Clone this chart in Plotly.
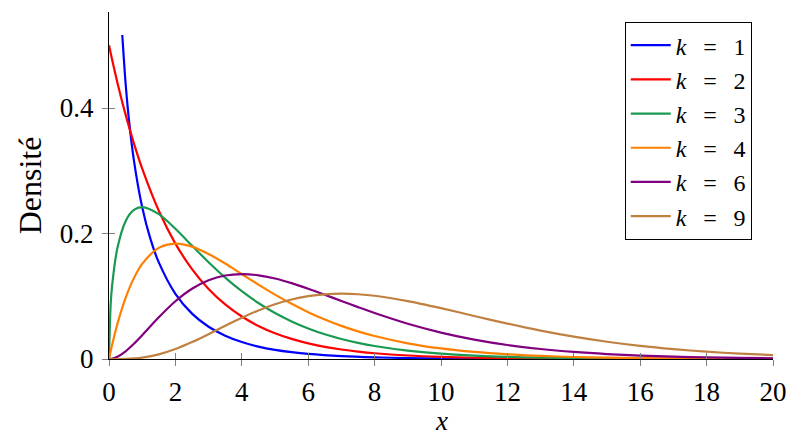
import plotly.graph_objects as go

# shared x grid
X = [0, 0.05, 0.1, 0.25, 0.5, 0.75, 1, 1.5, 2, 2.5, 3, 3.5, 4, 4.5, 5, 5.5, 6,
     6.5, 7, 7.5, 8, 9, 10, 11, 12, 13, 14, 15, 16, 17, 18, 19, 20]

X1 = [0.4, 0.5, 0.6, 0.75, 1, 1.25, 1.5, 2, 2.5, 3, 3.5, 4, 4.5, 5, 5.5, 6,
      7, 8, 9, 10, 12, 14, 16, 18, 20]
Y1 = [0.5164, 0.4394, 0.3815, 0.3166, 0.2420, 0.1910, 0.1539, 0.1038, 0.0723,
      0.0514, 0.0371, 0.0270, 0.0198, 0.0146, 0.0109, 0.0081, 0.00455, 0.00258,
      0.00148, 0.00085, 0.00029, 0.0001, 0.00003, 0.00001, 0.000004]

Y2 = [0.5, 0.4877, 0.4756, 0.4412, 0.3894, 0.3436, 0.3033, 0.2362, 0.1839,
      0.1433, 0.1116, 0.0869, 0.0677, 0.0527, 0.0410, 0.0320, 0.0249, 0.0194,
      0.0151, 0.0118, 0.0092, 0.0056, 0.0034, 0.0020, 0.0012, 0.00075, 0.00046,
      0.00028, 0.00017, 0.00010, 0.00006, 0.00004, 0.00002]

Y3 = [0, 0.0870, 0.1200, 0.1760, 0.2197, 0.2375, 0.2420, 0.2308, 0.2076,
      0.1807, 0.1542, 0.1297, 0.1080, 0.0892, 0.0732, 0.0598, 0.0487, 0.0394,
      0.0319, 0.0257, 0.0207, 0.0133, 0.0085, 0.0054, 0.0034, 0.0022, 0.0014,
      0.00085, 0.00053, 0.00033, 0.00021, 0.00013, 0.00008]

Y4 = [0, 0.0122, 0.0238, 0.0552, 0.0974, 0.1289, 0.1516, 0.1771, 0.1839,
      0.1791, 0.1673, 0.1521, 0.1353, 0.1186, 0.1026, 0.0879, 0.0747, 0.0630,
      0.0528, 0.0441, 0.0366, 0.0250, 0.0168, 0.0112, 0.0074, 0.0049, 0.0032,
      0.0021, 0.0013, 0.00086, 0.00055, 0.00036, 0.00023]

Y6 = [0, 0.00015, 0.0006, 0.00345, 0.0122, 0.0242, 0.0379, 0.0664, 0.0920,
      0.1119, 0.1255, 0.1330, 0.1353, 0.1334, 0.1283, 0.1209, 0.1120, 0.1024,
      0.0925, 0.0827, 0.0733, 0.0562, 0.0421, 0.0309, 0.0223, 0.0159, 0.0112,
      0.0078, 0.0054, 0.0037, 0.0025, 0.0017, 0.0011]

Y9 = [0, 0, 0, 0.000026, 0.00026, 0.00095, 0.0023, 0.0074, 0.0158, 0.0269,
      0.0396, 0.0530, 0.0658, 0.0774, 0.0872, 0.0948, 0.1001, 0.1031, 0.1041,
      0.1032, 0.1008, 0.0923, 0.0810, 0.0686, 0.0564, 0.0452, 0.0356, 0.0275,
      0.0209, 0.0157, 0.0116, 0.0085, 0.0062]

SP = "\u2002\u2009"
NAMES = [f"<i>k</i>{SP}={SP}{k}" for k in ["1", "2", "3", "4", "6", "9"]]
COLORS = ["#0000ff", "#ff0000", "#1a9a50", "#ff8000", "#800080", "#bf8040"]

XTICKS = list(range(0, 21, 2))
YTICKS = [0, 0.2, 0.4]
YTICKTEXT = ["0", "0.2", "0.4"]

FONT = "Liberation Serif"
FS = 27

fig = go.Figure()
series = [(X1, Y1), (X, Y2), (X, Y3), (X, Y4), (X, Y6), (X, Y9)]
for (xs, ys), name, col in zip(series, NAMES, COLORS):
    fig.add_trace(go.Scatter(x=xs, y=ys, mode="lines", name=name,
                             line=dict(color=col, width=2.2, shape="spline",
                                       smoothing=0.8)))

XR = [0, 20]
YR = [0, 0.553]

fig.update_layout(
    width=807, height=445,
    margin=dict(l=109, r=34, t=12, b=86),
    paper_bgcolor="white", plot_bgcolor="white",
    font=dict(family=FONT, size=FS, color="black"),
    showlegend=True,
    legend=dict(x=0.968, y=0.971, xanchor="right", yanchor="top",
                bordercolor="black", borderwidth=1, bgcolor="white",
                font=dict(family=FONT, size=24), tracegroupgap=0,
                itemwidth=40),
    xaxis=dict(range=XR, tickvals=XTICKS, ticks="outside", ticklen=6,
               tickcolor="#808080", tickwidth=1, showgrid=False, zeroline=False,
               showline=True, linecolor="black", linewidth=1,
               ticklabelstandoff=3,
               tickfont=dict(family=FONT, size=FS)),
    yaxis=dict(range=YR, tickvals=YTICKS, ticktext=YTICKTEXT, ticks="outside",
               ticklen=6, tickcolor="#808080", tickwidth=1, showgrid=False,
               zeroline=False, showline=True, linecolor="black", linewidth=1,
               ticklabelstandoff=3,
               title=dict(text="Densité", standoff=8),
               tickfont=dict(family=FONT, size=FS)),
    xaxis2=dict(range=XR, tickvals=XTICKS, ticks="inside", ticklen=6,
                tickcolor="#808080", overlaying="x", anchor="y", side="bottom",
                showticklabels=False, showgrid=False, zeroline=False),
    yaxis2=dict(range=YR, tickvals=YTICKS, ticks="inside", ticklen=6,
                tickcolor="#808080", overlaying="y", anchor="x", side="left",
                showticklabels=False, showgrid=False, zeroline=False),
)
fig.add_annotation(text="<i>x</i>", xref="paper", yref="paper", x=0.5, y=0,
                   xanchor="center", yanchor="middle", yshift=-62,
                   showarrow=False, font=dict(family=FONT, size=FS))
fig.add_trace(go.Scatter(x=[None], y=[None], xaxis="x2", yaxis="y2",
                         showlegend=False, hoverinfo="skip"))

fig.write_html("out.html")
